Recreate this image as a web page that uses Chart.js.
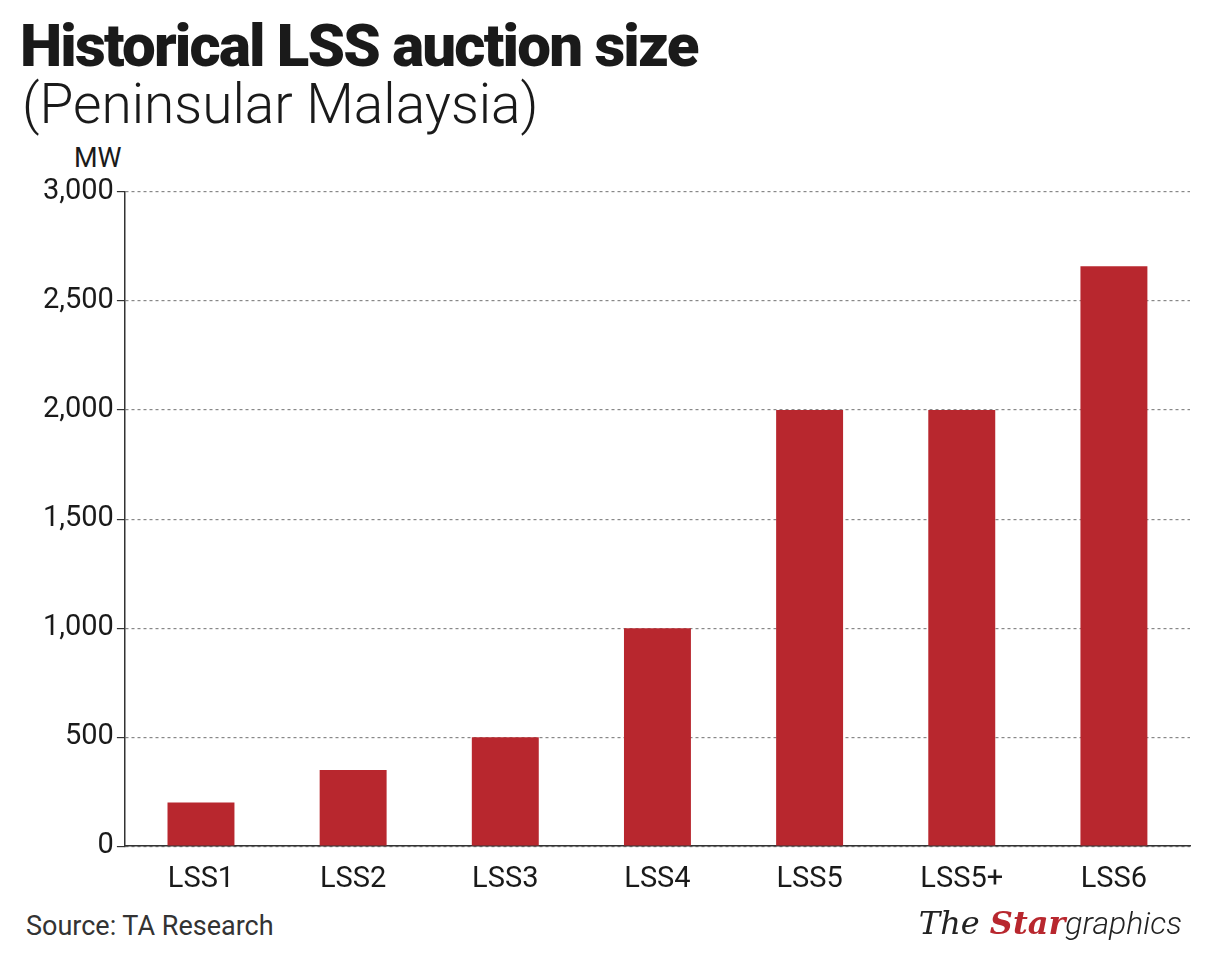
<!DOCTYPE html>
<html><head><meta charset="utf-8">
<script src="https://cdn.jsdelivr.net/npm/chart.js@4"></script>
<style>
  body { margin:0; width:1208px; height:955px; background:#fff; font-family:Roboto, sans-serif; position:relative; overflow:hidden; }
  #title { position:absolute; left:20px; top:10px; font-size:60px; font-weight:900; letter-spacing:-1.8px; color:#1a1a1a; }
  #sub { position:absolute; left:22px; top:72px; font-size:55px; font-weight:300; color:#1a1a1a; }
  #unit { position:absolute; left:74px; top:142px; font-size:27px; color:#1a1a1a; }
  #src { position:absolute; left:26px; top:910px; font-size:27px; color:#333; }
  #logo { position:absolute; right:26px; top:904px; font-size:32px; font-style:italic; color:#222; font-family:"DejaVu Serif", serif; }
  #logo b { color:#b8272e; }
  #wrap { position:absolute; left:0; top:170px; width:1208px; height:735px; }
</style></head>
<body>
<div id="title">Historical LSS auction size</div>
<div id="sub">(Peninsular Malaysia)</div>
<div id="unit">MW</div>
<div id="wrap"><canvas id="c"></canvas></div>
<div id="src">Source: TA Research</div>
<div id="logo">The <b>Star</b><span style="font-family:Roboto;font-weight:300">graphics</span></div>
<script>
// ─── Data ─────────────────────────────────────────────────
const categories = ['LSS1', 'LSS2', 'LSS3', 'LSS4', 'LSS5', 'LSS5+', 'LSS6'];
const auctionMW = [200, 350, 500, 1000, 2000, 2000, 2660];
const yTicks = [0, 500, 1000, 1500, 2000, 2500, 3000];

new Chart(document.getElementById('c'), {
  type: 'bar',
  data: {
    labels: categories,
    datasets: [{ data: auctionMW, backgroundColor: '#b8272e', categoryPercentage: 1, barPercentage: 0.44 }]
  },
  options: {
    responsive: true, maintainAspectRatio: false, animation: false,
    layout: { padding: { left: 40, right: 18, top: 22, bottom: 0 } },
    plugins: { legend: { display: false }, tooltip: { enabled: false } },
    scales: {
      y: {
        min: 0, max: 3000,
        afterBuildTicks: axis => { axis.ticks = yTicks.map(v => ({ value: v })); },
        ticks: { color: '#1a1a1a', font: { family: 'Roboto', size: 29 }, padding: 3,
                 callback: v => v.toLocaleString('en-US') },
        grid: { color: '#888', lineWidth: 1.2, drawTicks: true, tickLength: 8, tickColor: '#333' },
        border: { color: '#333', width: 1.5, dash: [3, 3] }
      },
      x: {
        ticks: { color: '#1a1a1a', font: { family: 'Roboto', size: 29 }, padding: 8 },
        grid: { display: false },
        border: { color: '#333', width: 1.5 }
      }
    }
  }
});
</script>
</body></html>
